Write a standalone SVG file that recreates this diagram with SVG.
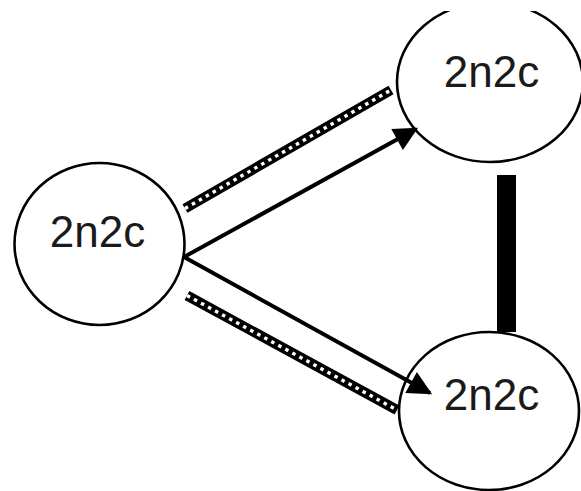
<svg xmlns="http://www.w3.org/2000/svg" width="581" height="491" viewBox="0 0 581 491">
  <style>
    .node ellipse { fill: none; stroke: #000; stroke-width: 2.6; }
    .node text { font-family: "Liberation Sans", Arial, sans-serif; font-size: 44px; fill: #1a1a1a; text-anchor: middle; }
    .arrow { stroke: #000; stroke-width: 4; fill: none; marker-end: url(#head); }
    .ladder { stroke: #000; stroke-width: 10; fill: none; }
    .rungs { stroke: #fff; stroke-width: 3.4; stroke-dasharray: 3.5 4.5; fill: none; }
  </style>
  <defs>
    <marker id="head" viewBox="0 0 10 10" refX="9" refY="5" markerWidth="7" markerHeight="6" markerUnits="strokeWidth" orient="auto">
      <path d="M0,0 L10,5 L0,10 z" fill="#000"/>
    </marker>
    <clipPath id="topClip">
      <rect x="0" y="11" width="581" height="480"/>
    </clipPath>
  </defs>

  <rect width="581" height="491" fill="#fff"/>

  <g id="node-left" class="node">
    <ellipse cx="99.5" cy="244" rx="85" ry="81"/>
    <text x="97.5" y="247">2n2c</text>
  </g>

  <g id="node-top" class="node" clip-path="url(#topClip)">
    <ellipse cx="490" cy="82" rx="93" ry="80"/>
    <text x="491.5" y="87">2n2c</text>
  </g>

  <g id="node-bottom" class="node">
    <ellipse cx="489" cy="411" rx="90" ry="79"/>
    <text x="491.5" y="410">2n2c</text>
  </g>

  <g id="connectors">
    <!-- double-line ladder links -->
    <path class="ladder" d="M185,208.5 L391,90"/>
    <path class="rungs" d="M185,208.5 L391,90"/>
    <path class="ladder" d="M187,295.5 L397,410"/>
    <path class="rungs" d="M187,295.5 L397,410"/>
    <!-- directed links -->
    <path class="arrow" d="M184,257 L416,129"/>
    <path class="arrow" d="M184,257 L430,393"/>
    <!-- heavy vertical link -->
    <rect x="497" y="175" width="19" height="157" fill="#000"/>
  </g>
</svg>
